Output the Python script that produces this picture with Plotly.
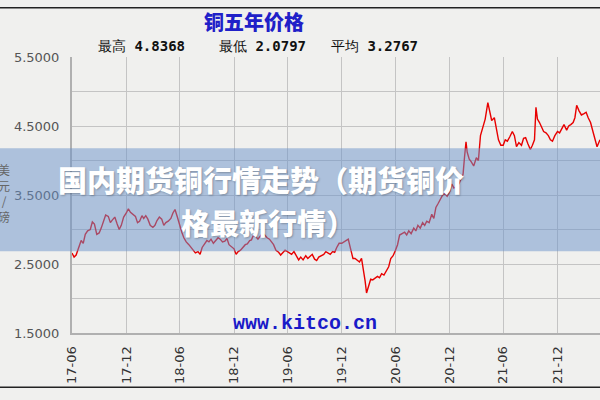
import plotly.graph_objects as go

dates = [
    "2017-07-01", "2017-07-08", "2017-07-15", "2017-07-23", "2017-08-01", "2017-08-08",
    "2017-08-15", "2017-08-23", "2017-09-01", "2017-09-08", "2017-09-15", "2017-09-23",
    "2017-10-01", "2017-10-08", "2017-10-15", "2017-10-23", "2017-11-01", "2017-11-08",
    "2017-11-15", "2017-11-23", "2017-12-01", "2017-12-08", "2017-12-15", "2017-12-23",
    "2018-01-01", "2018-01-08", "2018-01-15", "2018-01-23", "2018-02-01", "2018-02-08",
    "2018-02-15", "2018-02-23", "2018-03-01", "2018-03-08", "2018-03-15", "2018-03-23",
    "2018-04-01", "2018-04-08", "2018-04-15", "2018-04-23", "2018-05-01", "2018-05-08",
    "2018-05-15", "2018-05-23", "2018-06-01", "2018-06-08", "2018-06-15", "2018-06-23",
    "2018-07-01", "2018-07-08", "2018-07-15", "2018-07-23", "2018-08-01", "2018-08-08",
    "2018-08-15", "2018-08-23", "2018-09-01", "2018-09-08", "2018-09-15", "2018-09-23",
    "2018-10-01", "2018-10-08", "2018-10-15", "2018-10-23", "2018-11-01", "2018-11-08",
    "2018-11-15", "2018-11-23", "2018-12-01", "2018-12-08", "2018-12-15", "2018-12-23",
    "2019-01-01", "2019-01-08", "2019-01-15", "2019-01-23", "2019-02-01", "2019-02-08",
    "2019-02-15", "2019-02-23", "2019-03-01", "2019-03-08", "2019-03-15", "2019-03-23",
    "2019-04-01", "2019-04-08", "2019-04-15", "2019-04-23", "2019-05-01", "2019-05-08",
    "2019-05-15", "2019-05-23", "2019-06-01", "2019-06-08", "2019-06-15", "2019-06-23",
    "2019-07-01", "2019-07-08", "2019-07-15", "2019-07-23", "2019-08-01", "2019-08-08",
    "2019-08-15", "2019-08-23", "2019-09-01", "2019-09-08", "2019-09-15", "2019-09-23",
    "2019-10-01", "2019-10-08", "2019-10-15", "2019-10-23", "2019-11-01", "2019-11-08",
    "2019-11-15", "2019-11-23", "2019-12-01", "2019-12-08", "2019-12-15", "2019-12-23",
    "2020-01-01", "2020-01-08", "2020-01-15", "2020-01-23", "2020-02-01", "2020-02-08",
    "2020-02-15", "2020-02-23", "2020-03-01", "2020-03-08", "2020-03-15", "2020-03-20",
    "2020-03-25", "2020-04-01", "2020-04-08", "2020-04-15", "2020-04-23", "2020-05-01",
    "2020-05-08", "2020-05-15", "2020-05-23", "2020-06-01", "2020-06-08", "2020-06-15",
    "2020-06-23", "2020-07-01", "2020-07-08", "2020-07-15", "2020-07-23", "2020-08-01",
    "2020-08-08", "2020-08-15", "2020-08-23", "2020-09-01", "2020-09-08", "2020-09-15",
    "2020-09-23", "2020-10-01", "2020-10-08", "2020-10-15", "2020-10-23", "2020-11-01",
    "2020-11-08", "2020-11-15", "2020-11-23", "2020-12-01", "2020-12-08", "2020-12-15",
    "2020-12-23", "2021-01-01", "2021-01-08", "2021-01-15", "2021-01-23", "2021-02-01",
    "2021-02-08", "2021-02-15", "2021-02-20", "2021-02-25", "2021-03-01", "2021-03-08",
    "2021-03-15", "2021-03-23", "2021-04-01", "2021-04-08", "2021-04-15", "2021-04-23",
    "2021-05-01", "2021-05-10", "2021-05-15", "2021-05-23", "2021-06-01", "2021-06-08",
    "2021-06-15", "2021-06-23", "2021-07-01", "2021-07-08", "2021-07-15", "2021-07-23",
    "2021-08-01", "2021-08-08", "2021-08-15", "2021-08-23", "2021-09-01", "2021-09-08",
    "2021-09-15", "2021-09-23", "2021-10-01", "2021-10-08", "2021-10-15", "2021-10-20",
    "2021-10-25", "2021-11-01", "2021-11-08", "2021-11-15", "2021-11-23", "2021-12-01",
    "2021-12-08", "2021-12-15", "2021-12-23", "2022-01-01", "2022-01-08", "2022-01-15",
    "2022-01-23", "2022-02-01", "2022-02-08", "2022-02-15", "2022-02-23", "2022-03-01",
    "2022-03-07", "2022-03-15", "2022-03-23", "2022-04-01", "2022-04-08", "2022-04-15",
    "2022-04-23", "2022-05-01", "2022-05-08", "2022-05-15", "2022-05-25",
]
prices = [
    2.66, 2.60, 2.63, 2.72, 2.84, 2.80,
    2.93, 2.98, 3.00, 3.11, 3.08, 2.93,
    2.95, 3.02, 3.12, 3.21, 3.19, 3.10,
    3.14, 3.18, 3.08, 3.00, 3.06, 3.18,
    3.24, 3.30, 3.25, 3.22, 3.19, 3.10,
    3.12, 3.20, 3.16, 3.20, 3.15, 3.06,
    3.03, 3.06, 3.13, 3.18, 3.15, 3.06,
    3.10, 3.12, 3.16, 3.24, 3.29, 3.18,
    3.05, 2.96, 2.88, 2.82, 2.78, 2.74,
    2.71, 2.66, 2.68, 2.64, 2.74, 2.80,
    2.84, 2.82, 2.86, 2.80, 2.84, 2.88,
    2.86, 2.82, 2.83, 2.87, 2.78, 2.75,
    2.72, 2.64, 2.68, 2.70, 2.74, 2.78,
    2.79, 2.84, 2.85, 2.92, 2.90, 2.86,
    2.91, 2.95, 2.92, 2.88, 2.86, 2.82,
    2.78, 2.70, 2.67, 2.63, 2.66, 2.70,
    2.68, 2.66, 2.64, 2.68, 2.60, 2.56,
    2.60, 2.56, 2.62, 2.58, 2.61, 2.64,
    2.57, 2.55, 2.60, 2.62, 2.64, 2.68,
    2.66, 2.64, 2.68, 2.67, 2.74, 2.80,
    2.80, 2.82, 2.84, 2.86, 2.70, 2.58,
    2.58, 2.56, 2.53, 2.58, 2.42, 2.26,
    2.08, 2.20, 2.28, 2.27, 2.30, 2.32,
    2.30, 2.36, 2.34, 2.41, 2.46, 2.58,
    2.62, 2.70, 2.78, 2.92, 2.94, 2.96,
    2.92, 2.98, 2.94, 3.02, 2.98, 3.06,
    3.02, 3.10, 3.06, 3.12, 3.10, 3.22,
    3.16, 3.32, 3.38, 3.45, 3.50, 3.52,
    3.48, 3.55, 3.66, 3.60, 3.62, 3.66,
    3.72, 3.80, 4.05, 4.27, 4.12, 4.02,
    3.98, 3.92, 4.04, 4.00, 4.36, 4.48,
    4.60, 4.84, 4.75, 4.58, 4.62, 4.48,
    4.30, 4.22, 4.22, 4.30, 4.28, 4.34,
    4.42, 4.36, 4.20, 4.26, 4.22, 4.32,
    4.33, 4.24, 4.16, 4.22, 4.30, 4.77,
    4.60, 4.55, 4.48, 4.42, 4.40, 4.36,
    4.30, 4.28, 4.36, 4.42, 4.40, 4.46,
    4.52, 4.44, 4.50, 4.52, 4.55, 4.62,
    4.80, 4.72, 4.66, 4.68, 4.70, 4.62,
    4.55, 4.42, 4.30, 4.20, 4.30,
]

x_tick_dates = ["2017-07-01", "2018-01-01", "2018-07-01", "2019-01-01", "2019-07-01",
                "2020-01-01", "2020-07-01", "2021-01-01", "2021-07-01", "2022-01-01"]
x_tick_labels = ["17-06", "17-12", "18-06", "18-12", "19-06",
                 "19-12", "20-06", "20-12", "21-06", "21-12"]
y_tick_vals = [1.5, 2.0, 2.5, 3.0, 3.5, 4.0, 4.5, 5.0, 5.5]
y_tick_labels = ["1.5000", "", "2.5000", "", "3.5000", "", "4.5000", "", "5.5000"]

title_text = "铜五年价格"
stats = [("最高", "4.8368"), ("最低", "2.0797"), ("平均", "3.2767")]
banner_lines = ["国内期货铜行情走势（期货铜价", "格最新行情）"]
watermark = "www.kitco.cn"
y_title = "美<br>元<br>/<br>磅"

BG = "#f0f0ee"
W, H = 600, 400
L, R, T, B = 72, 0, 56.5, 66.5
PW, PH = W - L - R, H - T - B


def px(xp):
    return (xp - L) / PW


def py(yp):
    return 1 - (yp - T) / PH


fig = go.Figure()
fig.add_trace(go.Scatter(x=dates, y=prices, mode="lines",
                         line=dict(color="#e80000", width=1.4), hoverinfo="skip"))

fig.update_layout(
    width=W, height=H,
    margin=dict(l=L, r=R, t=T, b=B),
    paper_bgcolor=BG, plot_bgcolor=BG,
    showlegend=False,
    font=dict(family="DejaVu Sans", size=13, color="#555"),
    xaxis=dict(
        type="date", range=["2017-07-01", "2022-05-25"],
        tickmode="array", tickvals=x_tick_dates, ticktext=x_tick_labels,
        tickangle=-90, tickfont=dict(size=13, color="#333"),
        showgrid=True, gridcolor="#c4c4c4", gridwidth=1,
        showline=True, linecolor="#b0b0b0", linewidth=2,
        ticks="", ticklabelstandoff=6, zeroline=False,
    ),
    yaxis=dict(
        range=[1.5, 5.5], tickmode="array", tickvals=y_tick_vals, ticktext=y_tick_labels,
        tickfont=dict(size=13, color="#555"),
        showgrid=True, gridcolor="#c4c4c4", gridwidth=1,
        showline=True, linecolor="#b0b0b0", linewidth=2,
        ticks="", ticklabelstandoff=8, zeroline=False,
    ),
)

shapes = [
    dict(type="line", xref="paper", yref="paper", x0=px(0), x1=px(600), y0=py(7), y1=py(7),
         line=dict(color="#222", width=1.5)),
    dict(type="line", xref="paper", yref="paper", x0=px(0), x1=px(600), y0=py(388), y1=py(388),
         line=dict(color="#222", width=1.5)),
    dict(type="rect", xref="paper", yref="paper", x0=px(0), x1=px(600), y0=py(251.5), y1=py(148),
         fillcolor="rgba(105,145,202,0.5)", line=dict(width=0), layer="above"),
]
fig.update_layout(shapes=shapes)

banner_font = dict(size=29, color="white", family="Noto Sans CJK SC", weight=900,
                   shadow="1px 1px 2px rgba(0,0,0,0.25)")
ann = [
    dict(text=title_text, x=px(254), y=py(21),
         font=dict(size=20, color="#2020c8", family="Noto Sans CJK SC", weight=900)),
    dict(text=y_title, x=px(4), y=py(193),
         font=dict(size=12, color="#666", family="Noto Sans CJK SC")),
    dict(text="<b>" + watermark + "</b>", x=px(305), y=py(324),
         font=dict(size=20, color="#1a1ac8", family="Liberation Mono")),
    dict(text=banner_lines[0], x=px(261), y=py(179), font=banner_font),
    dict(text=banner_lines[1], x=px(268), y=py(222), font=banner_font),
]
centers = [141, 262, 374]
for (lab, val), cx in zip(stats, centers):
    ann.append(dict(text=lab + " <b>" + val + "</b>", x=px(cx), y=py(45),
                    font=dict(size=14, color="#111", family="DejaVu Sans Mono")))
for a in ann:
    a.update(xref="paper", yref="paper", showarrow=False, xanchor="center", yanchor="middle")
fig.update_layout(annotations=ann)

fig.write_html("out.html")
